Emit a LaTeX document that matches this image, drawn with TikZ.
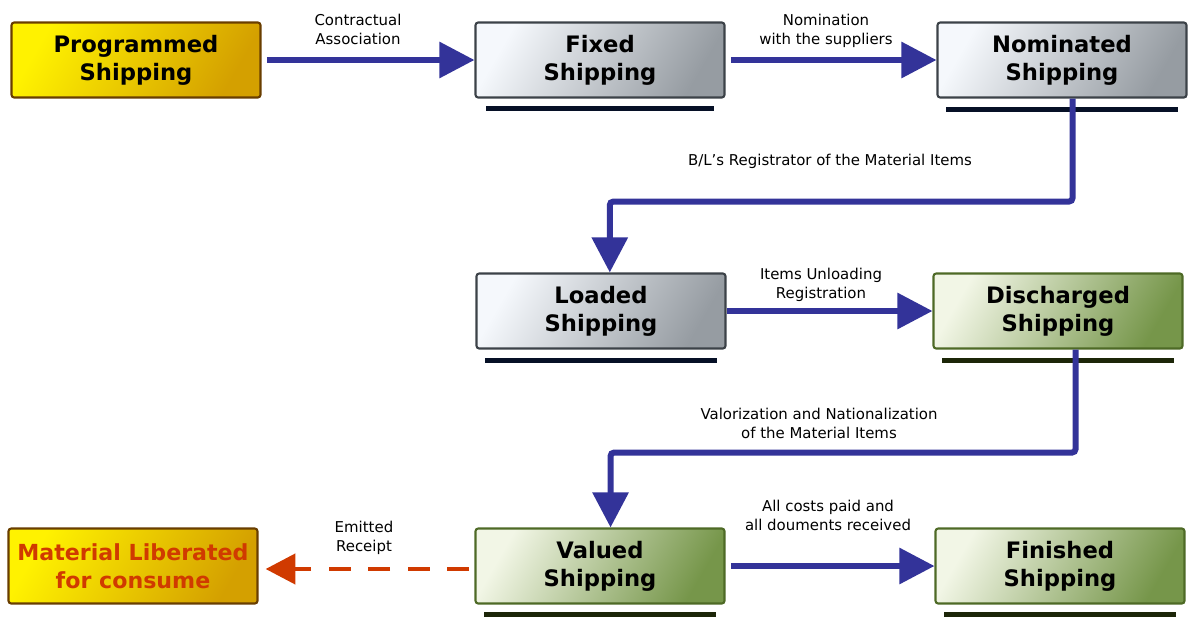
\documentclass[tikz,border=0pt]{standalone}
\usepackage{fontspec}
\setmainfont{DejaVu Sans}
\usetikzlibrary{arrows.meta}

\definecolor{flowblue}{RGB}{51,51,153}
\definecolor{receiptred}{RGB}{208,58,0}
\definecolor{goldtop}{RGB}{255,242,0}
\definecolor{goldbot}{RGB}{212,160,0}
\definecolor{goldrim}{RGB}{105,62,0}
\definecolor{silvtop}{RGB}{245,248,252}
\definecolor{silvbot}{RGB}{150,156,162}
\definecolor{silvrim}{RGB}{60,66,72}
\definecolor{leaftop}{RGB}{242,246,230}
\definecolor{leafbot}{RGB}{118,150,74}
\definecolor{leafrim}{RGB}{78,106,38}
\definecolor{navybar}{RGB}{6,16,38}
\definecolor{olivebar}{RGB}{28,38,8}

\begin{document}
\begin{tikzpicture}[x=0.02cm,y=-0.02cm,
  box/.style={draw, line width=1.2pt, rounded corners=1.5pt, minimum width=4.98cm,
    minimum height=1.5cm, inner sep=0pt, align=center,
    font=\fontsize{12.9}{15.9}\selectfont\bfseries},
  goldbox/.style={box, draw=goldrim, left color=goldtop, right color=goldbot, shading angle=60},
  silverbox/.style={box, draw=silvrim, left color=silvtop, right color=silvbot, shading angle=60},
  leafbox/.style={box, draw=leafrim, left color=leaftop, right color=leafbot, shading angle=60},
  note/.style={align=center, font=\fontsize{8.5}{10.8}\selectfont},
  flow/.style={flowblue, line width=3.4pt, -{Triangle[length=20pt,width=20pt]}},
  receipt/.style={receiptred, line width=2.8pt, dash pattern=on 12.5pt off 10pt,
    -{Triangle[length=17pt,width=17pt]}},
  navyline/.style={navybar, line width=3pt},
  oliveline/.style={olivebar, line width=3pt}]

\useasboundingbox (0,0) rectangle (1192,619);

\node[goldbox] (prog) at (136,60) {Programmed\\Shipping};
\node[silverbox] (fix) at (600,60) {Fixed\\Shipping};
\node[silverbox] (nom) at (1062,60) {Nominated\\Shipping};
\node[silverbox] (load) at (601,311) {Loaded\\Shipping};
\node[leafbox] (disch) at (1058,311) {Discharged\\Shipping};
\node[leafbox] (val) at (600,566) {Valued\\Shipping};
\node[leafbox] (fin) at (1060,566) {Finished\\Shipping};
\node[goldbox, text=receiptred, font=\fontsize{12.6}{15.9}\selectfont\bfseries] (mat) at (133,566) {Material Liberated\\for consume};

\draw[navyline] ([shift={(12,10)}]fix.south west) -- ([shift={(-12,10)}]fix.south east);
\draw[navyline] ([shift={(10,11)}]nom.south west) -- ([shift={(-10,11)}]nom.south east);
\draw[navyline] ([shift={(10,11)}]load.south west) -- ([shift={(-10,11)}]load.south east);
\draw[oliveline] ([shift={(10,11)}]disch.south west) -- ([shift={(-10,11)}]disch.south east);
\draw[oliveline] ([shift={(10,10)}]val.south west) -- ([shift={(-10,10)}]val.south east);
\draw[oliveline] ([shift={(10,10)}]fin.south west) -- ([shift={(-10,10)}]fin.south east);

\draw[flow, shorten <=3] (prog.east) -- (fix.west);
\draw[flow, shorten <=3] (fix.east) -- (nom.west);
\draw[flow, rounded corners=2pt] ([xshift=6]nom.south) -- ++(0,103) -| ([xshift=5]load.north);
\draw[flow] (load.east) -- (disch.west);
\draw[flow, rounded corners=2pt] ([xshift=10]disch.south) -- ++(0,103) -| ([xshift=6]val.north);
\draw[flow, shorten <=3] (val.east) -- (fin.west);
\draw[receipt, shorten <=3pt, shorten >=4] ([yshift=-1.7pt]val.west) -- ([yshift=-1.7pt]mat.east);

\node[note] (contract) at (358,29) {Contractual\\Association};
\node[note] (nomination) at (826,31) {Nomination\\with the suppliers};
\node[note] (registrator) at (830,161) {B/L’s Registrator of the Material Items};
\node[note] (unloading) at (821,285) {Items Unloading\\Registration};
\node[note] (valorization) at (819,423) {Valorization and Nationalization\\of the Material Items};
\node[note] (costs) at (828,515) {All costs paid and\\all douments received};
\node[note] (emitted) at (364,538) {Emitted\\Receipt};

\end{tikzpicture}
\end{document}
